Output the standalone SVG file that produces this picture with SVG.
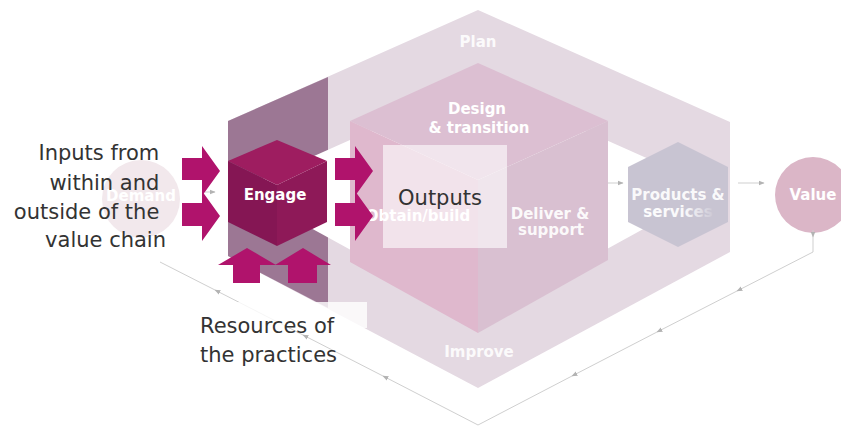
<svg xmlns="http://www.w3.org/2000/svg" width="841" height="429" viewBox="0 0 841 429">
<defs>
<style>
.lbl{font-family:"DejaVu Sans",Verdana,sans-serif;font-weight:bold;font-size:15px;text-anchor:middle;fill:#ffffff}
.dark{font-family:"DejaVu Sans",Verdana,sans-serif;font-size:21px;fill:#333333}
.mag{fill:#b0136c}
.conn{fill:none;stroke:#cfcfcf;stroke-width:1}
</style>
<marker id="ah" viewBox="0 0 10 10" refX="9" refY="5" markerWidth="6" markerHeight="6" orient="auto" markerUnits="userSpaceOnUse">
<path d="M0,1 L10,5 L0,9 z" fill="#b3b3b3"/>
</marker>
<linearGradient id="fadeTxt" x1="0" y1="0" x2="1" y2="0">
<stop offset="0" stop-color="#ffffff" stop-opacity="0.95"/>
<stop offset="0.6" stop-color="#ffffff" stop-opacity="0.9"/>
<stop offset="1" stop-color="#ffffff" stop-opacity="0.1"/>
</linearGradient>
</defs>
<rect width="841" height="429" fill="#ffffff"/>

<g id="plan-improve-ring">
<polygon points="478,10 730,122 730,252 478,388 228,256 228,121" fill="#e4d9e2"/>
<polygon points="228,121 328,77 328,308 228,256" fill="#9c7794"/>
<polygon points="478,83 716,189 478,320 240,189" fill="#ffffff"/>
<text class="lbl" x="478" y="47" fill-opacity="0.9">Plan</text>
<text class="lbl" x="479" y="357" fill-opacity="0.9">Improve</text>
</g>

<g id="value-chain-hex">
<polygon points="478,63 608,121 478,180 350,121" fill="#dcbfd2"/>
<polygon points="350,121 478,180 478,333 350,262" fill="#dfb8cd"/>
<polygon points="478,180 608,121 608,260 478,333" fill="#d9c0d1"/>
<text class="lbl" x="477" y="114">Design</text>
<text class="lbl" x="479" y="133">&amp; transition</text>
<text class="lbl" x="550" y="219" fill-opacity="0.92">Deliver &amp;</text>
<text class="lbl" x="551" y="235" fill-opacity="0.92">support</text>
<text class="lbl" x="418" y="221" font-size="14">Obtain/build</text>
</g>

<g id="outputs">
<rect x="383" y="145" width="124" height="103" fill="#ffffff" fill-opacity="0.6"/>
<text class="dark" x="440" y="205" text-anchor="middle" font-size="22" fill="#222222">Outputs</text>
</g>

<g id="products-services">
<polygon points="678,142 728,167 728,222 678,247 628,222 628,167" fill="#c8c4d2"/>
<text class="lbl" x="678" y="200" fill-opacity="0.92">Products &amp;</text>
<text class="lbl" x="678" y="217" style="fill:url(#fadeTxt)">services</text>
</g>

<g id="value">
<circle cx="813" cy="195" r="38" fill="#dbb6c7"/>
<text class="lbl" x="813" y="200" font-size="16">Value</text>
</g>

<g id="demand">
<circle cx="141" cy="199" r="39" fill="#f2e8ec"/>
<text class="lbl" x="141" y="201" font-size="14" fill="#fbf7f9">Demand</text>
</g>

<g id="engage">
<polygon points="277,140 327,161 277,185 228,161" fill="#9e1d60"/>
<polygon points="228,161 277,185 277,246 228,222" fill="#851654"/>
<polygon points="277,185 327,161 327,222 277,246" fill="#8e1958"/>
<text class="lbl" x="275" y="200" fill="#f5d9e8">Engage</text>
</g>

<g id="connectors">
<path class="conn" d="M205,192 H215" marker-end="url(#ah)"/>
<path class="conn" d="M608,183 H623" marker-end="url(#ah)"/>
<path class="conn" d="M738,183 H764" marker-end="url(#ah)"/>
<path class="conn" d="M813,230 V237" marker-end="url(#ah)"/>
<path class="conn" d="M813,237 V252 L737,291" marker-end="url(#ah)"/>
<path class="conn" d="M737,291 L657,332" marker-end="url(#ah)"/>
<path class="conn" d="M657,332 L572,376" marker-end="url(#ah)"/>
<path class="conn" d="M572,376 L478,425 L383,376" marker-end="url(#ah)"/>
<path class="conn" d="M383,376 L303,335" marker-end="url(#ah)"/>
<path class="conn" d="M303,335 L215,290" marker-end="url(#ah)"/>
<path class="conn" d="M215,290 L160,262"/>
</g>

<g id="input-arrows">
<polygon class="mag" points="182,158 202,158 202,146 220,171 202,196 202,180 182,180"/>
<polygon class="mag" points="182,203 202,203 202,191 220,216 202,241 202,226 182,226"/>
<polygon class="mag" points="335,158 355,158 355,146 373,171 355,196 355,180 335,180"/>
<polygon class="mag" points="335,203 355,203 355,191 373,216 355,241 355,226 335,226"/>
<polygon class="mag" points="233,283 233,265 218,265 247,248 276,265 260,265 260,283"/>
<polygon class="mag" points="288,283 288,265 275,265 303,248 331,265 317,265 317,283"/>
</g>

<g id="labels">
<rect x="198" y="302" width="169" height="26" fill="#ffffff" fill-opacity="0.8"/>
<text class="dark" text-anchor="end">
<tspan x="166" y="160">Inputs from</tspan>
<tspan x="166" y="190">within and</tspan>
<tspan x="166" y="219">outside of the</tspan>
<tspan x="166" y="247">value chain</tspan>
</text>
<text class="dark">
<tspan x="200" y="333">Resources of</tspan>
<tspan x="200" y="362">the practices</tspan>
</text>
</g>
</svg>
